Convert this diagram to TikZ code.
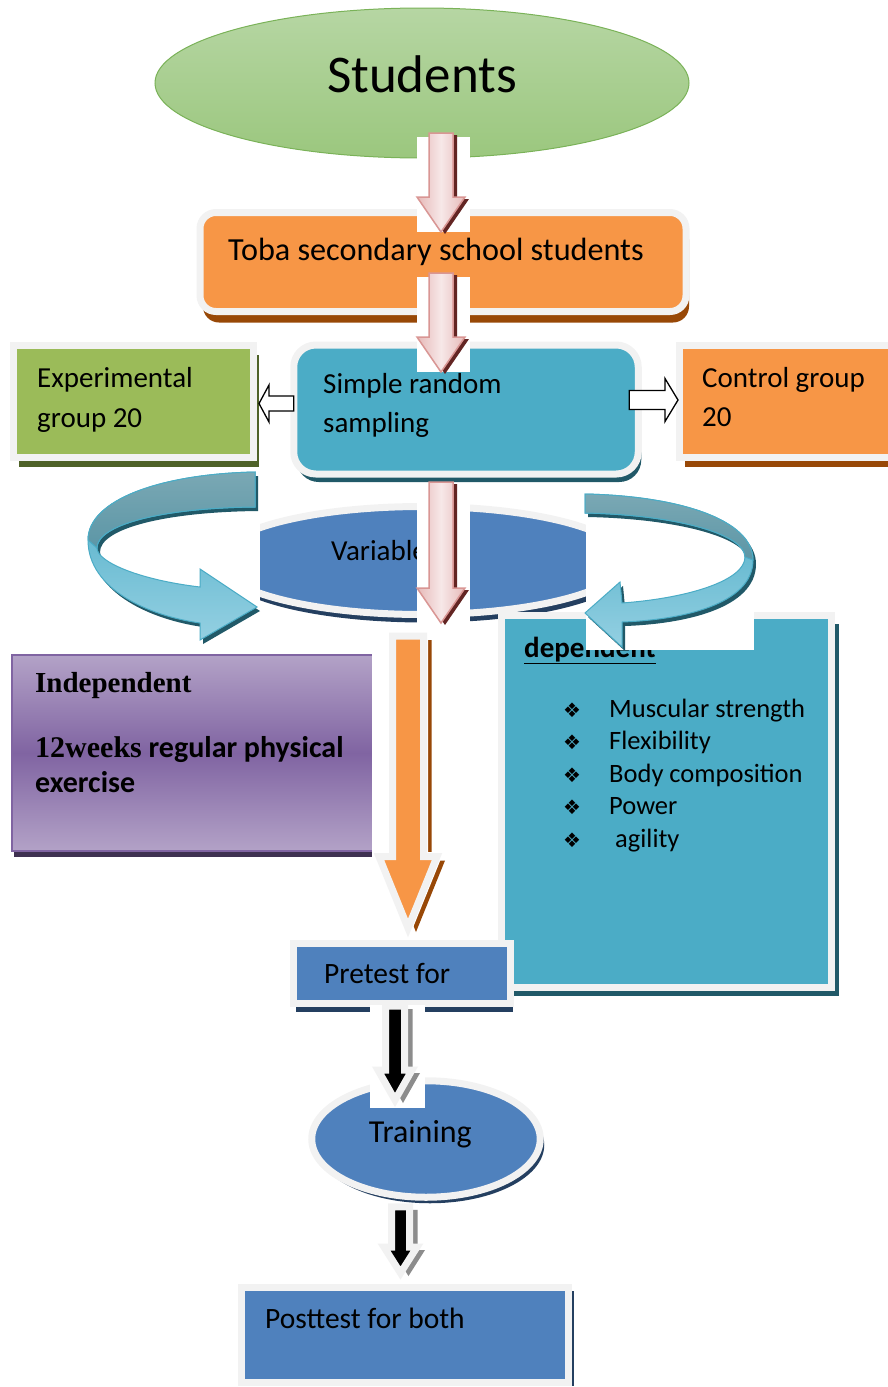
\documentclass[tikz,border=0pt]{standalone}
\usepackage{fontspec}
\setmainfont{Carlito}
\newfontfamily\timesfont{Liberation Serif}
\newfontfamily\symbfont{DejaVu Sans}
\usetikzlibrary{calc,shapes.geometric,shadows}

\definecolor{edgewhite}{HTML}{F2F2F2}
\definecolor{studtop}{RGB}{182,214,163}
\definecolor{studbot}{RGB}{155,199,126}
\definecolor{studedge}{RGB}{122,178,88}
\definecolor{orangefill}{HTML}{F79646}
\definecolor{brownshadow}{HTML}{984807}
\definecolor{tealfill}{HTML}{4BACC6}
\definecolor{tealshadow}{HTML}{215968}
\definecolor{greenfill}{HTML}{9BBB59}
\definecolor{oliveshadow}{HTML}{4F6228}
\definecolor{bluefill}{HTML}{4F81BD}
\definecolor{navyshadow}{HTML}{243F60}
\definecolor{purplelight}{HTML}{B3A2C7}
\definecolor{purpledark}{HTML}{8064A2}
\definecolor{purpleshadow}{HTML}{3F3151}
\definecolor{pinkedge}{HTML}{D99694}
\definecolor{pinkmid}{HTML}{E6B9B8}
\definecolor{pinklight}{HTML}{F7E8E8}
\definecolor{pinkshadow}{HTML}{632523}
\definecolor{ribbontop}{RGB}{122,168,180}
\definecolor{ribbonfold}{RGB}{92,150,166}
\definecolor{ribbonlow}{RGB}{148,208,226}
\definecolor{arrowgray}{HTML}{8C8C8C}

% block arrow pointing down: from #1 to tip #2, shaft/head half widths #3/#4, head length #5
\newcommand{\arrowshape}[5]{let \p1=(#1), \p2=(#2) in
  (\x1-#3,\y1) -- (\x1+#3,\y1) -- (\x1+#3,\y2+#5) -- (\x1+#4,\y2+#5)
  -- (\x1,\y2) -- (\x1-#4,\y2+#5) -- (\x1-#3,\y2+#5) -- cycle}
% flat block arrow to the side: from #1 to tip #2, half heights #3/#4, head length #5
\newcommand{\sidearrow}[5]{let \p1=(#1), \p2=(#2), \n1={sign(\x2-\x1)*#5} in
  (\x1,\y1+#3) -- (\x2-\n1,\y1+#3) -- (\x2-\n1,\y1+#4) -- (\x2,\y1)
  -- (\x2-\n1,\y1-#4) -- (\x2-\n1,\y1-#3) -- (\x1,\y1-#3) -- cycle}
% curved arrows round the variables
\newcommand{\leftcurl}{(255,-472) .. controls (160,-474) and (88,-500) .. (88,-540)
  .. controls (88,-590) and (150,-616) .. (200,-623) -- (200,-640) -- (257,-607)
  -- (200,-569) -- (200,-587) .. controls (140,-580) and (97,-562) .. (97,-548)
  .. controls (97,-525) and (160,-508) .. (255,-507) -- cycle}
\newcommand{\leftfold}{(255,-472) .. controls (160,-474) and (88,-500) .. (88,-540)
  -- (97,-548) .. controls (97,-525) and (160,-508) .. (255,-507) -- cycle}
\newcommand{\rightcurl}{(585,-494) .. controls (680,-496) and (753,-520) .. (753,-560)
  .. controls (753,-605) and (680,-620) .. (622,-622) -- (622,-647) -- (585,-613)
  -- (620,-582) -- (622,-603) .. controls (690,-598) and (745,-580) .. (745,-557)
  .. controls (745,-535) and (680,-515) .. (585,-513) -- cycle}
\newcommand{\rightfold}{(585,-494) .. controls (680,-496) and (753,-520) .. (753,-560)
  -- (745,-557) .. controls (745,-535) and (680,-515) .. (585,-513) -- cycle}

\begin{document}
\begin{tikzpicture}[x=1pt,y=1pt,
    box/.style={draw=edgewhite, line width=7pt, inner sep=0pt, outer sep=0pt},
    txt/.style={inner sep=0pt, align=left, text=black},
    cover/.style={fill=white},
    ribbon/.style={draw=tealfill, line width=1pt, top color=tealfill, bottom color=ribbonlow},
    ribbonback/.style={draw=tealfill, line width=1pt, top color=ribbontop, bottom color=ribbonfold},
    pinkbody/.style={draw=pinkedge, line width=1.5pt, left color=pinkmid, right color=pinkmid, middle color=pinklight},
    hollow/.style={fill=white, draw=black, line width=1.3pt}]
  \useasboundingbox (0,0) rectangle (888,-1387);
  \clip (0,0) rectangle (888,-1387);

  % boxes
  \node[ellipse, draw=studedge, line width=1pt, top color=studtop, bottom color=studbot,
        minimum width=534pt, minimum height=150pt, inner sep=0pt, outer sep=0pt] (stud) at (422,-83) {};
  \node[box, rounded corners=16pt, fill=orangefill, minimum width=486pt, minimum height=99pt,
        drop shadow={fill=brownshadow, opacity=1, shadow xshift=3pt, shadow yshift=-11pt}] (toba) at (443,-262) {};
  \node[box, rounded corners=22pt, fill=tealfill, minimum width=344.5pt, minimum height=129pt,
        drop shadow={fill=tealshadow, opacity=1, shadow xshift=3pt, shadow yshift=-8pt}] (samp) at (466,-409.5) {};
  \node[box, fill=greenfill, minimum width=240pt, minimum height=112pt,
        drop shadow={fill=oliveshadow, opacity=1, shadow xshift=5pt, shadow yshift=-9pt}] (exp) at (133.5,-401.5) {};
  \node[box, fill=orangefill, minimum width=250pt, minimum height=112pt,
        drop shadow={fill=brownshadow, opacity=1, shadow xshift=5pt, shadow yshift=-9pt}] (ctrl) at (804.5,-401.5) {};
  \node[box, ellipse, fill=bluefill, minimum width=408pt, minimum height=108pt,
        drop shadow={fill=navyshadow, opacity=1, shadow xshift=3pt, shadow yshift=-8pt}] (var) at (422,-560.5) {};
  \node[draw=purpledark, line width=2.5pt, top color=purplelight, bottom color=purplelight, middle color=purpledark,
        minimum width=383pt, minimum height=196pt, inner sep=0pt, outer sep=0pt,
        drop shadow={fill=purpleshadow, opacity=1, shadow xshift=2pt, shadow yshift=-6pt}] (ind) at (203.5,-753) {};
  \node[box, fill=tealfill, minimum width=330.5pt, minimum height=372pt,
        drop shadow={fill=tealshadow, opacity=1, shadow xshift=7pt, shadow yshift=-9pt}] (dep) at (666.25,-801) {};
  \node[box, fill=bluefill, minimum width=217pt, minimum height=60pt,
        drop shadow={fill=navyshadow, opacity=1, shadow xshift=2pt, shadow yshift=-9pt}] (pre) at (402,-973) {};
  \node[box, ellipse, fill=bluefill, minimum width=228.5pt, minimum height=116.5pt,
        drop shadow={fill=navyshadow, opacity=1, shadow xshift=4pt, shadow yshift=-6pt}] (train) at (426,-1139) {};
  \node[box, fill=bluefill, minimum width=327pt, minimum height=95pt,
        drop shadow={fill=navyshadow, opacity=1, shadow xshift=6pt, shadow yshift=-3pt}] (post) at (404.5,-1335) {};

  % texts
  \node[txt, anchor=base, font=\fontsize{53}{60}\selectfont] (tstud) at ($(stud.center)+(0,-9)$) {Students};
  \node[txt, anchor=base west, font=\fontsize{32.2}{36}\selectfont] (ttoba) at ($(toba.west)+(28,2)$) {Toba secondary school students};
  \node[txt, anchor=west, font=\fontsize{29}{39}\selectfont] (tsamp) at ($(samp.west)+(29.25,4.5)$) {Simple random\\sampling};
  \node[txt, anchor=west, font=\fontsize{29}{40}\selectfont] (texp) at ($(exp.west)+(23.5,1.5)$) {Experimental\\group 20};
  \node[txt, anchor=west, font=\fontsize{29}{39}\selectfont] (tctrl) at ($(ctrl.west)+(22.5,4.5)$) {Control group\\20};
  \node[txt, anchor=base west, font=\fontsize{29}{34}\selectfont] (tvar) at ($(var.west)+(113,0.5)$) {Variables};
  \node[txt, anchor=base west, font=\fontsize{29}{34}\selectfont\timesfont\bfseries] (tind) at ($(ind.north west)+(23,-37)$) {Independent};
  \node[txt, anchor=west, font=\fontsize{30}{35}\selectfont\bfseries] (tweeks) at ($(ind.north west)+(23,-110)$)
       {{\timesfont 12weeks} regular physical\\exercise};
  \node[txt, anchor=base west, font=\fontsize{29}{34}\selectfont\bfseries] (tdep) at ($(dep.north west)+(23,-42)$) {\underline{dependent}};
  \foreach \t [count=\i] in {Muscular strength, Flexibility, Body composition, Power, {\ agility}}
    \node[txt, anchor=base west, font=\fontsize{26.5}{30}\selectfont] (item\i) at ($(dep.north west)+(62,-102-32.5*\i+32.5)$)
         {\makebox[46pt][l]{\symbfont\fontsize{20}{20}\selectfont ❖}\t};
  \node[txt, anchor=base west, font=\fontsize{29.5}{34}\selectfont] (tpre) at ($(pre.west)+(30.5,-10)$) {Pretest for};
  \node[txt, anchor=base west, font=\fontsize{32}{36}\selectfont] (ttrain) at ($(train.west)+(57,-3)$) {Training};
  \node[txt, anchor=base west, font=\fontsize{29.5}{34}\selectfont] (tpost) at ($(post.north west)+(24,-40.5)$) {Posttest for both};

  % hollow arrows to the two groups
  \filldraw[hollow] \sidearrow{$(samp.west)+(0,6)$}{$(exp.east)+(5.5,-2)$}{7.5}{18.5}{10};
  \filldraw[hollow] \sidearrow{$(samp.east)+(-9,9.5)$}{$(ctrl.west)+(-1.5,1.5)$}{9.5}{21.5}{13};

  % curved arrows
  \fill[cover] (86,-468) rectangle (260,-645);
  \fill[tealshadow, shift={(3,-4)}] \leftcurl;
  \path[ribbon] \leftcurl;
  \path[ribbonback] \leftfold;
  \fill[cover] (586,-487) rectangle (754,-650);
  \fill[tealshadow, shift={(3,-4)}] \rightcurl;
  \path[ribbon] \rightcurl;
  \path[ribbonback] \rightfold;

  % pink arrows down the middle
  \coordinate (a1top) at ($(stud.south)+(19,25)$);
  \coordinate (a1tip) at ($(toba.north)+(-2,-19.5)$);
  \coordinate (a2top) at ($(toba.south)+(-2,38.5)$);
  \coordinate (a2tip) at ($(samp.north)+(-25,-27)$);
  \coordinate (a3top) at ($(samp.south)+(-25,-8)$);
  \coordinate (a3tip) at ($(var.south)+(19,-8.5)$);
  \foreach \st/\en in {a1top/a1tip, a2top/a2tip, a3top/a3tip} {
    \fill[cover] let \p1=(\st), \p2=(\en) in (\x1-24,\y1-4) rectangle (\x1+29,\y2);
    \fill[pinkshadow] \arrowshape{$(\st)+(4,-2)$}{$(\en)+(4,-2)$}{12}{24}{35};
    \shadedraw[pinkbody] \arrowshape{\st}{\en}{12}{24}{35};
  }

  % orange arrow to the pretest
  \coordinate (otop) at ($(var.south)+(-14,-21.5)$);
  \coordinate (otip) at ($(pre.north)+(6,15)$);
  \fill[cover] let \p1=(otop), \p2=(otip) in (\x1-36,\y1+8) rectangle (\x1+38,\y2-12);
  \fill[brownshadow] \arrowshape{$(otop)+(8,-4)$}{$(otip)+(8,-4)$}{15.5}{29}{71.5};
  \draw[white, line width=9pt] \arrowshape{otop}{otip}{15.5}{29}{71.5};
  \filldraw[fill=orangefill, draw=edgewhite, line width=7pt] \arrowshape{otop}{otip}{15.5}{29}{71.5};

  % black arrows
  \coordinate (b1top) at ($(pre.south)+(-7,-3)$);
  \coordinate (b1tip) at ($(train.north)+(-31,-19.25)$);
  \coordinate (b2top) at ($(train.south)+(-25.5,-9.5)$);
  \coordinate (b2tip) at ($(post.north)+(-4,14.5)$);
  \foreach \st/\en/\sw/\hw/\hl in {b1top/b1tip/9.5/17/30, b2top/b2tip/9/16.5/26} {
    \fill[cover] let \p1=(\st), \p2=(\en) in (\x1-25,\y1+1) rectangle (\x1+30,\y2-8);
    \fill[arrowgray] \arrowshape{$(\st)+(8,-3)$}{$(\en)+(8,-3)$}{\sw}{\hw}{\hl};
    \filldraw[fill=black, draw=edgewhite, line width=7pt] \arrowshape{\st}{\en}{\sw}{\hw}{\hl};
  }
\end{tikzpicture}
\end{document}
